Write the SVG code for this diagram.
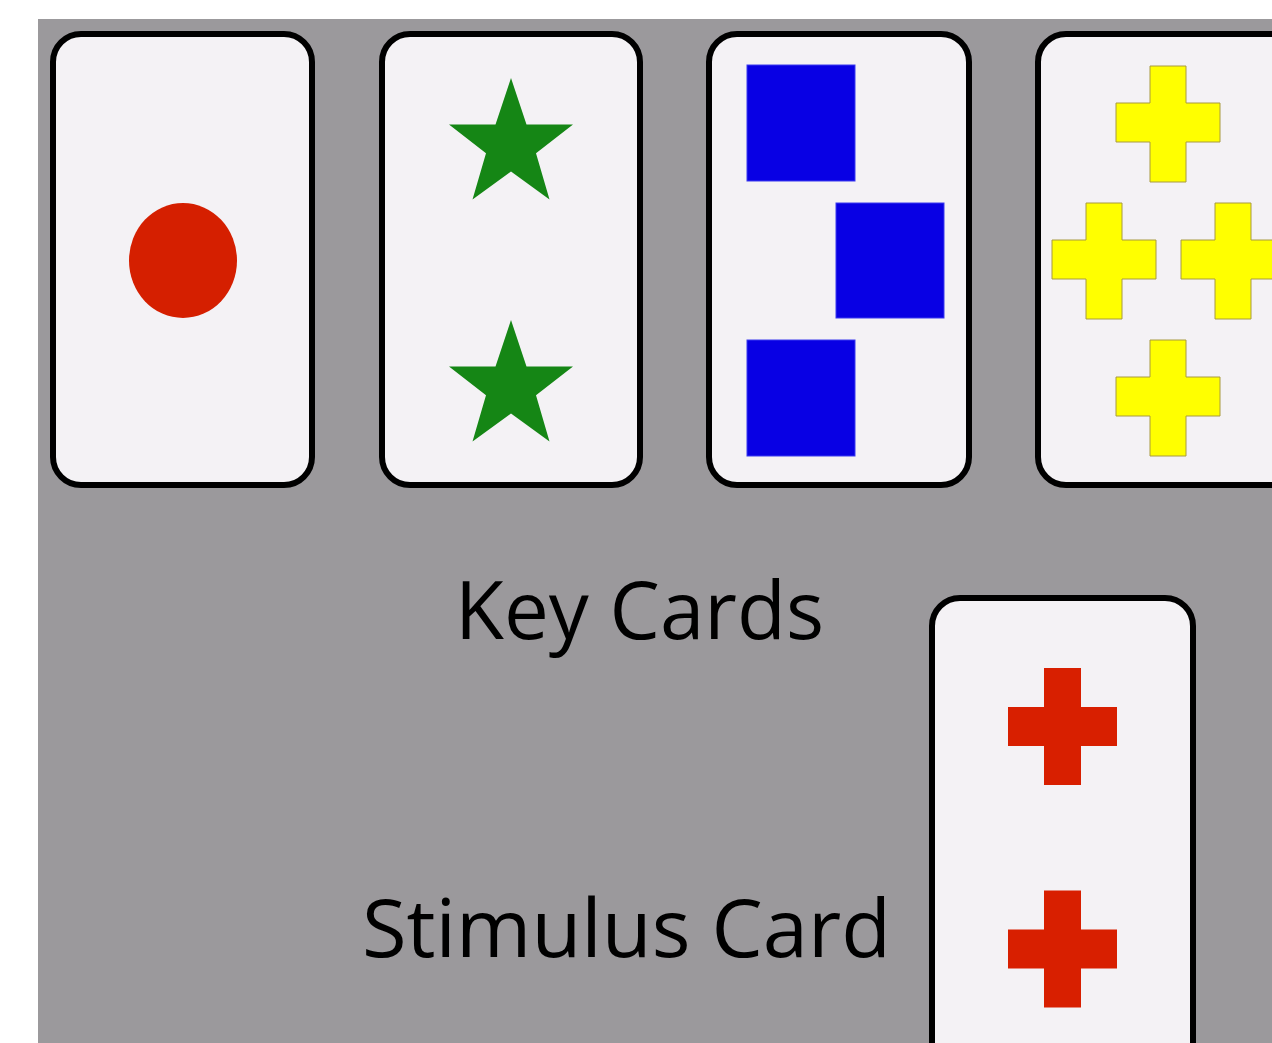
<svg xmlns="http://www.w3.org/2000/svg" width="1272" height="1043" viewBox="0 0 1272 1043">
<defs>
<style>
.card{fill:#f4f2f5;stroke:#000;stroke-width:6}
.lbl{font-family:"Open Sans","Liberation Sans",sans-serif;font-size:81px;fill:#000}
.star{fill:#158615}
.sq{fill:#0800e4;stroke:#3a3af0;stroke-width:1}
.ycross{fill:#ffff00;stroke:#a89a40;stroke-width:1}
.rcross{fill:#d81f00}
</style>
<polygon id="starShape" points="0,-67 15.5,-20.5 62,-20.5 25,8.2 38.5,54.5 0,26.5 -38.5,54.5 -25,8.2 -62,-20.5 -15.5,-20.5"/>
<path id="ycrossShape" d="M-18,-58 H18 V-21 H52 V18 H18 V58 H-18 V18 H-52 V-21 H-18 Z"/>
<path id="rcrossShape" d="M-18.5,-58.5 H18.5 V-19.5 H54.5 V19.5 H18.5 V58.5 H-18.5 V19.5 H-54.5 V-19.5 H-18.5 Z"/>
</defs>
<rect x="0" y="0" width="1272" height="1043" fill="#ffffff"/>
<rect x="38" y="19" width="1234" height="1024" fill="#9b999c"/>
<g id="card1">
<rect class="card" x="53" y="34" width="259" height="451" rx="28"/>
<ellipse cx="183" cy="260.5" rx="54" ry="57.5" fill="#d51f00"/>
</g>
<g id="card2">
<rect class="card" x="382" y="34" width="258" height="451" rx="28"/>
<use href="#starShape" class="star" x="511" y="145"/>
<use href="#starShape" class="star" x="511" y="387"/>
</g>
<g id="card3">
<rect class="card" x="709" y="34" width="260" height="451" rx="28"/>
<rect class="sq" x="747" y="65" width="108" height="116"/>
<rect class="sq" x="836" y="203" width="108" height="115"/>
<rect class="sq" x="747" y="340" width="108" height="116"/>
</g>
<g id="card4">
<rect class="card" x="1038" y="34" width="261" height="451" rx="28"/>
<use href="#ycrossShape" class="ycross" x="1168" y="124"/>
<use href="#ycrossShape" class="ycross" x="1104" y="261"/>
<use href="#ycrossShape" class="ycross" x="1233" y="261"/>
<use href="#ycrossShape" class="ycross" x="1168" y="398"/>
</g>
<g id="stimulus">
<rect class="card" x="932" y="598" width="261" height="480" rx="28"/>
<use href="#rcrossShape" class="rcross" x="1062.5" y="726.5"/>
<use href="#rcrossShape" class="rcross" x="1062.5" y="949"/>
</g>
<g id="labels">
<text class="lbl" x="455" y="639" textLength="369" lengthAdjust="spacingAndGlyphs">Key Cards</text>
<text class="lbl" x="362" y="957" textLength="529" lengthAdjust="spacingAndGlyphs">Stimulus Card</text>
</g>
<g id="connectors"/>
</svg>
